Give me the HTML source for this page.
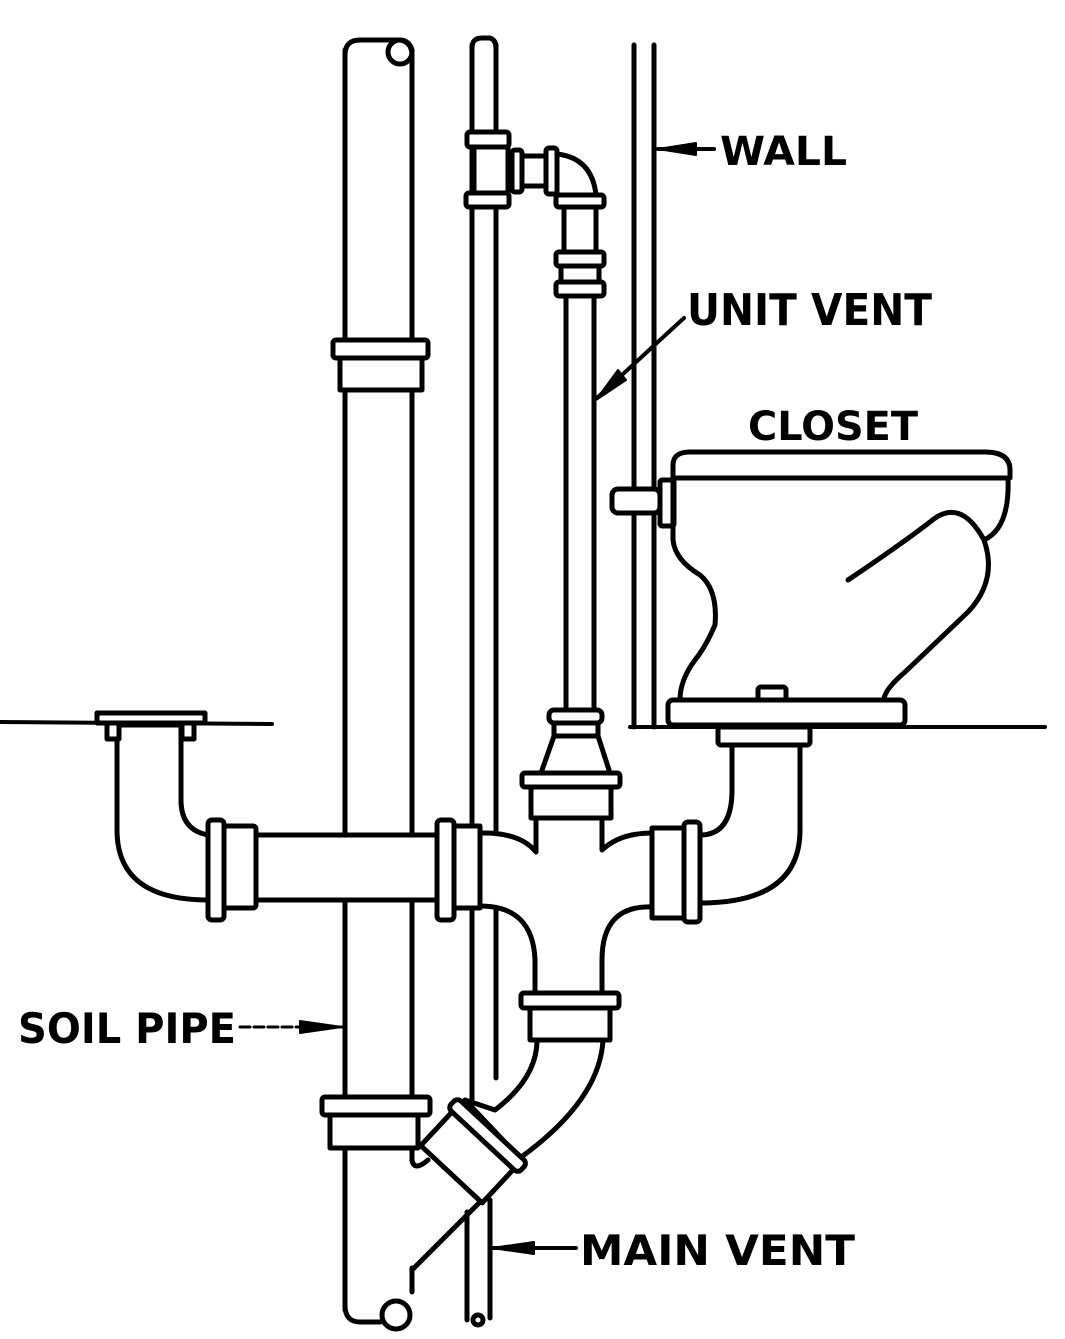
<!DOCTYPE html>
<html><head><meta charset="utf-8"><style>
html,body{margin:0;padding:0;background:#fff;}
svg{display:block}
text{font-family:"DejaVu Sans","Liberation Sans",sans-serif;font-weight:bold;fill:#000}
</style></head><body>
<svg width="1065" height="1339" viewBox="0 0 1065 1339" xmlns="http://www.w3.org/2000/svg">
<g fill="#fff" stroke="#000" stroke-width="5" stroke-linejoin="round" stroke-linecap="round">
<!-- floors -->
<line x1="0" y1="722" x2="272" y2="724" stroke-width="4"/>
<line x1="630" y1="727" x2="1045" y2="727" stroke-width="4"/>
<!-- wall -->
<line x1="634" y1="45" x2="634" y2="727"/>
<line x1="654" y1="45" x2="654" y2="727"/>

<!-- soil pipe -->
<line x1="345" y1="50" x2="345" y2="1310"/>
<line x1="412" y1="50" x2="412" y2="1160"/>
<line x1="412" y1="1268" x2="412" y2="1292"/>
<path d="M345 55 Q345 40 360 40 L400 40 Q412 42 412 55" fill="none"/>
<ellipse cx="400" cy="52" rx="12" ry="12" fill="none"/>
<path d="M345 1305 Q345 1322 360 1322 L380 1322" fill="none"/>
<circle cx="396" cy="1315" r="14"/>
<rect x="333" y="340" width="95" height="18" rx="3"/>
<rect x="340" y="358" width="82" height="32"/>
<rect x="322" y="1097" width="108" height="18" rx="3"/>
<rect x="330" y="1115" width="88" height="33"/>
<path d="M412 1148 L412 1160 Q414 1172 428 1160" fill="none"/>

<!-- main vent -->
<line x1="472" y1="45" x2="472" y2="1100"/>
<line x1="496" y1="45" x2="496" y2="1078"/>
<line x1="467" y1="1212" x2="467" y2="1320"/>
<line x1="490" y1="1200" x2="490" y2="1318"/>
<path d="M472 48 Q472 38 482 38 L490 38 Q496 40 496 48" fill="none"/>
<circle cx="478" cy="1320" r="5"/>
<rect x="467" y="132" width="42" height="15" rx="3"/>
<rect x="474" y="147" width="34" height="46"/>
<rect x="466" y="193" width="43" height="14" rx="3"/>
<!-- side outlet & elbow -->
<rect x="512" y="150" width="10" height="42" rx="3"/>
<rect x="522" y="156" width="24" height="30"/>
<rect x="546" y="148" width="11" height="46" rx="3"/>
<path d="M557 154 Q592 158 596 195 L557 195 Z"/>
<rect x="556" y="195" width="48" height="12" rx="3"/>
<!-- unit vent -->
<rect x="564" y="207" width="32" height="46"/>
<rect x="556" y="252" width="48" height="14" rx="3"/>
<rect x="561" y="266" width="38" height="16"/>
<rect x="556" y="282" width="48" height="14" rx="3"/>
<line x1="566" y1="296" x2="566" y2="710"/>
<line x1="594" y1="296" x2="594" y2="710"/>
<rect x="549" y="710" width="53" height="13" rx="5"/>
<rect x="554" y="723" width="44" height="13"/>
<path d="M554 736 L598 736 L610 773 L541 773 Z"/>
<rect x="522" y="773" width="98" height="14" rx="3"/>
<rect x="531" y="787" width="80" height="31"/>

<!-- left drain -->
<path d="M117 725 L117 830 Q117 900 208 900 L208 835 Q181 830 181 800 L181 725 Z"/>
<rect x="97" y="713" width="108" height="10" fill="none"/>
<rect x="107" y="723" width="12" height="16"/>
<rect x="182" y="723" width="12" height="16"/>
<rect x="208" y="820" width="16" height="100" rx="4"/>
<rect x="224" y="826" width="32" height="82" rx="3"/>
<rect x="256" y="835" width="182" height="65"/>
<rect x="437" y="820" width="17" height="100" rx="4"/>
<rect x="454" y="826" width="26" height="82"/>

<!-- cross fitting -->
<path d="M480 833 Q520 832 536 852 L536 818 L602 818 L602 850 Q620 833 652 833 L652 907 Q602 905 602 960 L602 993 L535 993 L535 960 Q533 906 480 906 Z"/>
<rect x="652" y="828" width="34" height="90"/>
<rect x="684" y="822" width="16" height="100" rx="4"/>

<!-- toilet elbow -->
<path d="M700 835 Q732 835 732 790 L732 745 L800 745 L800 830 Q800 903 700 903 Z"/>
<rect x="718" y="727" width="92" height="18" rx="3"/>

<!-- lower hub & 45 bend -->
<rect x="521" y="993" width="98" height="15" rx="3"/>
<rect x="530" y="1008" width="80" height="32"/>
<path d="M537 1040 Q537 1078 495 1110 L465 1100 L520 1158 Q600 1100 603 1040 Z"/>
<!-- wye -->
<line x1="482" y1="1200" x2="412" y2="1270"/>
<g transform="translate(461,1164) rotate(43)">
<rect x="-42" y="-34" width="84" height="48"/>
<rect x="-48" y="-46" width="96" height="14" rx="5"/>
</g>

<!-- toilet -->
<rect x="612" y="489" width="48" height="24" rx="6"/>
<rect x="660" y="480" width="14" height="46" rx="2"/>
<path d="M673 478 L673 540 Q675 560 700 575 Q718 590 715 625 Q705 648 695 660 Q680 680 680 700" fill="none"/>
<path d="M1008 478 Q1010 528 984 540 Q998 580 968 612 L905 672 Q884 690 884 700" fill="none"/>
<path d="M848 580 Q900 545 930 522 Q960 496 984 540" fill="none"/>
<path d="M673 478 L673 465 Q673 452 690 452 L985 452 Q1010 452 1010 470 L1010 478 Z"/>
<rect x="668" y="700" width="237" height="25" rx="5"/>
<rect x="758" y="687" width="28" height="13" rx="3"/>

<!-- leaders -->
<line x1="658" y1="149" x2="714" y2="149" stroke-width="4"/>
<path d="M658 149 L696 143 L696 155 Z" fill="#000" stroke-width="2"/>
<line x1="684" y1="318" x2="598" y2="397" stroke-width="4"/>
<path d="M596 400 L618 370 L626 380 Z" fill="#000" stroke-width="2"/>
<line x1="240" y1="1027" x2="342" y2="1027" stroke-width="3" stroke-dasharray="10 4"/>
<path d="M342 1027 L300 1021 L300 1033 Z" fill="#000" stroke-width="2"/>
<line x1="492" y1="1248" x2="576" y2="1248" stroke-width="4"/>
<path d="M492 1248 L534 1242 L534 1254 Z" fill="#000" stroke-width="2"/>
</g>
<text x="720" y="165" font-size="40" textLength="127" lengthAdjust="spacingAndGlyphs">WALL</text>
<text x="687" y="325" font-size="44" textLength="245" lengthAdjust="spacingAndGlyphs">UNIT VENT</text>
<text x="748" y="440" font-size="40" textLength="170" lengthAdjust="spacingAndGlyphs">CLOSET</text>
<text x="18" y="1043" font-size="42" textLength="218" lengthAdjust="spacingAndGlyphs">SOIL PIPE</text>
<text x="580" y="1265" font-size="42" textLength="275" lengthAdjust="spacingAndGlyphs">MAIN VENT</text>
</svg>
</body></html>
